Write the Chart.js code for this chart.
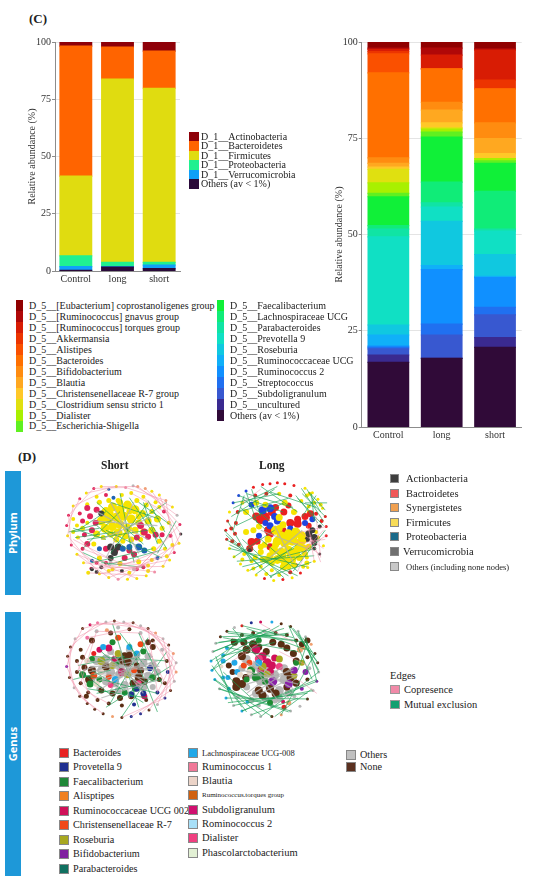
<!DOCTYPE html>
<html>
<head>
<meta charset="utf-8">
<script src="https://cdn.jsdelivr.net/npm/chart.js@4.4.1/dist/chart.umd.min.js"></script>
<style>
  body { margin: 0; background: #fff; width: 550px; height: 881px; position: relative; overflow: hidden; font-family: 'Liberation Serif', serif; color: #222; }
  canvas { position: absolute; }
  .t { position: absolute; white-space: nowrap; }
  .b { position: absolute; }
</style>
</head>
<body>
<canvas id="phylumBar" width="170" height="255" style="left:20px;top:35px;width:170px;height:255px"></canvas>
<canvas id="genusBar" width="205" height="415" style="left:325px;top:35px;width:205px;height:415px"></canvas>
<canvas id="netPS" width="140" height="125" style="left:50px;top:470px;width:140px;height:125px"></canvas>
<canvas id="netPL" width="140" height="125" style="left:200px;top:470px;width:140px;height:125px"></canvas>
<canvas id="netGS" width="140" height="125" style="left:50px;top:610px;width:140px;height:125px"></canvas>
<canvas id="netGL" width="140" height="125" style="left:200px;top:610px;width:140px;height:125px"></canvas>
<script>
// ---- panel C: relative abundance ----
const groups = ['Control', 'long', 'short'];
const tickValues = [0, 25, 50, 75, 100];

const phylumNames = ['D_1__Actinobacteria', 'D_1__Bacteroidetes', 'D_1__Firmicutes',
  'D_1__Proteobacteria', 'D_1__Verrucomicrobia', 'Others (av < 1%)'];
const phylumColors = ['#8e0008', '#ff6400', '#e0dc10', '#20f090', '#10a0f8', '#2a0a3a'];
// values per phylum: [Control, long, short]
const phylumValues = [
  [1.8, 2.2, 4.0],
  [56.8, 14.0, 16.2],
  [34.8, 80.0, 76.0],
  [4.7, 1.9, 1.2],
  [1.6, 0.2, 1.6],
  [0.3, 1.7, 1.0]
];

const genusNames = ['D_5__[Eubacterium] coprostanoligenes group', 'D_5__[Ruminococcus] gnavus group',
  'D_5__[Ruminococcus] torques group', 'D_5__Akkermansia', 'D_5__Alistipes', 'D_5__Bacteroides',
  'D_5__Bifidobacterium', 'D_5__Blautia', 'D_5__Christensenellaceae R-7 group',
  'D_5__Clostridium sensu stricto 1', 'D_5__Dialister', 'D_5__Escherichia-Shigella',
  'D_5__Faecalibacterium', 'D_5__Lachnospiraceae UCG', 'D_5__Parabacteroides', 'D_5__Prevotella 9',
  'D_5__Roseburia', 'D_5__Ruminococcaceae UCG', 'D_5__Ruminococcus 2', 'D_5__Streptococcus',
  'D_5__Subdoligranulum', 'D_5__uncultured', 'Others (av < 1%)'];
const genusColors = ['#900000', '#b00808', '#d81c04', '#ec3400', '#fa5000', '#ff7000', '#ff8c10',
  '#ffa820', '#ffc828', '#e0e010', '#a8f000', '#60f020', '#10f038', '#10ec78', '#10e4a4',
  '#10e0c4', '#10c8e0', '#10b0f8', '#1090ff', '#2070f0', '#3858d0', '#3a2a90', '#300a38'];
const genusValues = [
  [1.6, 1.6, 1.8], [0.3, 1.8, 0.3], [0.6, 3.6, 7.8], [0.6, 0, 2.3], [4.9, 0, 0],
  [22.1, 8.7, 8.8], [1.4, 2.0, 4.1], [1.0, 3.3, 3.9], [0.6, 1.3, 1.3], [3.5, 0.3, 0],
  [2.7, 0.8, 0.6], [0.9, 1.3, 0.6], [7.5, 11.7, 7.3], [0.9, 5.4, 9.8], [2.0, 1.1, 0.5],
  [22.9, 3.7, 6.1], [2.6, 11.5, 5.7], [2.9, 1.0, 0.3], [0.3, 14.2, 7.7], [0.4, 2.8, 2.0],
  [1.6, 6.1, 5.9], [1.9, 0, 2.5], [16.8, 17.8, 20.7]
];

// ---- panel D: co-occurrence networks (node: x, y, degree, group) ----
const phylumShortNodes = [
  [42,15,1.5,'R'],[50,13,1.5,'Y'],[58,16,1.5,'B'],[66,13,1.5,'Y'],[76,14,1.5,'P'],[84,12,1.5,'G'],[89,13,1.5,'O'],[97,15,1.5,'O'],
  [104,18,1.5,'Y'],[112,22,1.5,'Y'],[119,28,1.5,'O'],[126,35,1.5,'Y'],[131,44,1.5,'G'],[134,54,1.5,'R'],[135,64,1.5,'K'],[133,74,1.5,'Y'],
  [128,84,1.5,'R'],[123,92,1.5,'Y'],[116,99,1.5,'Y'],[107,105,1.5,'P'],[98,109,1.5,'Y'],[88,112,1.5,'Y'],[78,113,1.5,'Y'],[68,113,1.5,'P'],
  [58,111,1.5,'Y'],[48,107,1.5,'Y'],[39,101,1.5,'R'],[31,95,1.5,'Y'],[24,86,1.5,'Y'],[18,76,1.5,'R'],[14,66,1.5,'Y'],[13,55,1.5,'R'],
  [15,44,1.5,'R'],[20,34,1.5,'Y'],[27,26,1.5,'R'],[34,20,1.5,'Y'],
  [45,24,2,'Y'],[55,22,2,'R'],[63,25,2,'B'],[72,22,2,'Y'],[82,20,2,'Y'],[95,24,2,'Y'],[108,30,2,'Y'],[117,40,2,'R'],
  [122,52,2,'Y'],[124,66,2,'R'],[118,80,2,'Y'],[110,90,2,'B'],[100,98,2,'Y'],[88,102,2,'R'],[72,104,2,'K'],[62,102,2,'Y'],
  [50,100,2,'K'],[40,93,2,'B'],[30,80,2,'R'],[25,68,2,'Y'],[24,55,2,'Y'],[27,42,2,'R'],[35,32,2,'Y'],
  [48,30,2.5,'Y'],[58,28,2.5,'Y'],[68,28,2.5,'Y'],[88,28,2.5,'Y'],[98,33,2.5,'Y'],[104,40,2.5,'Y'],[115,58,2.5,'Y'],[112,72,2.5,'Y'],
  [106,80,2.5,'Y'],[52,68,2.5,'Y'],[66,70,3,'Y'],[82,70,3,'Y'],[92,70,2.5,'Y'],[73,72,2.5,'Y'],[42,75,2.5,'Y'],[48,90,2.5,'Y'],
  [70,96,2.5,'Y'],[90,94,2.5,'Y'],[104,92,2,'Y'],[30,58,2.5,'Y'],[35,52,2,'Y'],[112,35,2,'Y'],[30,50,2.5,'R'],[32,65,2.5,'R'],
  [115,65,2.5,'R'],[95,100,2,'R'],[45,95,2,'R'],[55,95,2,'R'],[60,95,2,'G'],[85,102,2,'G'],[20,48,2,'Y'],[20,62,2,'Y'],
  [120,88,2,'Y'],[126,76,2,'Y'],[36,106,2,'Y'],[58,104,2,'Y'],[80,106,2,'Y'],[100,104,2,'Y'],
  [55,40,4.5,'Y'],[62,35,4.5,'Y'],[70,38,4.5,'Y'],[78,33,4.5,'Y'],[86,38,4.5,'Y'],[94,42,3.5,'Y'],[100,50,3.5,'Y'],[50,50,4.5,'Y'],
  [58,48,4.5,'Y'],[66,46,4.5,'Y'],[74,45,4.5,'Y'],[82,48,4.5,'Y'],[90,52,3.5,'Y'],[54,58,4.5,'Y'],[62,56,4.5,'Y'],[70,54,4.5,'Y'],
  [78,58,4.5,'Y'],[86,60,3.5,'Y'],[60,64,3.5,'Y'],[68,63,4.5,'Y'],[76,66,3.5,'Y'],[45,64,3.5,'Y'],[95,62,3.5,'Y'],[104,60,3.5,'Y'],[110,48,3.5,'Y'],
  [70,30,3,'Y'],[80,40,3,'Y'],[90,45,3,'Y'],[60,42,3,'Y'],[52,45,3,'Y'],
  [38,45,3,'R'],[44,52,3,'R'],[40,60,3,'R'],[35,36,3,'R'],[45,38,3,'R'],[92,55,3.5,'R'],[96,62,3.5,'R'],[100,67,3,'R'],
  [108,65,3,'R'],[88,68,3,'R'],[35,75,3,'R'],[55,80,3,'R'],[65,82,3,'R'],[80,82,3,'R'],[85,86,3,'R'],[75,90,3,'R'],
  [50,42,3,'K'],[60,78,3.5,'K'],[68,78,3.5,'K'],[64,84,3.5,'K'],[60,90,3,'K'],[45,105,2,'K'],[40,102,2,'K'],
  [80,78,3,'B'],[90,78,3.5,'B'],[96,82,3,'B'],[73,80,3,'B'],[48,80,2.5,'B']
];
const phylumShortPink = [[14,66,48,107],[18,76,68,113],[24,86,88,112],[31,95,107,105],[39,101,116,99],[48,107,123,92],
  [58,111,128,84],[68,113,133,74],[78,113,134,54],[25,68,62,102],[30,80,88,102],[40,93,100,98],[62,102,118,80],[88,102,124,66],
  [20,70,58,90],[50,100,110,90],[76,14,119,28],[84,12,126,35],[89,13,131,44],[97,15,134,54],[104,18,135,64],[112,22,133,74],
  [119,28,128,84],[95,24,122,52],[82,20,117,40],[13,55,27,26],[15,44,42,15],[20,34,58,16],[14,66,20,34],[18,76,15,44],
  [42,15,76,14],[50,13,89,13],[34,20,66,13],[36,106,98,109],[24,86,58,111],[116,99,135,64],[100,104,126,76]];
const phylumShortGreen = [[15,62,60,50],[20,58,55,70],[30,80,70,40],[45,30,95,75],[60,30,112,48],[80,25,110,70],[90,30,125,55],
  [95,40,120,80],[40,95,105,80],[55,60,115,90],[70,20,85,95],[100,30,60,85],[35,70,100,60],[25,60,55,40],[110,85,130,50],
  [75,60,120,30],[50,95,95,100],[45,55,90,90],[18,62,48,58],[22,68,65,62],[95,30,110,75],[100,28,118,62],[30,84,60,98],[62,96,112,82]];
const phylumShortGray = [[45,40,100,70],[50,70,105,45],[60,30,90,85],[40,50,110,55],[55,90,85,30]];

const phylumLongNodes = [
  [62,10,1.5,'r'],[70,9,1.5,'r'],[78,8,1.5,'r'],[86,9,1.5,'r'],[96,11,1.5,'r'],[52,13,1.5,'r'],[44,17,1.5,'b'],[36,22,1.5,'b'],
  [30,30,1.5,'b'],[26,40,1.5,'Y'],[24,50,1.5,'r'],[22,60,1.5,'r'],[23,70,1.5,'r'],[26,80,1.5,'Y'],[31,89,1.5,'Y'],[38,97,1.5,'Y'],
  [46,104,1.5,'Y'],[55,109,1.5,'Y'],[64,113,1.5,'r'],[74,115,1.5,'Y'],[84,114,1.5,'r'],[94,112,1.5,'Y'],[103,107,1.5,'r'],[111,101,1.5,'Y'],
  [118,94,1.5,'Y'],[124,86,1.5,'K'],[128,77,1.5,'Y'],[131,66,1.5,'r'],[131,56,1.5,'r'],[130,45,1.5,'r'],[127,36,1.5,'Y'],[122,26,1.5,'Y'],
  [116,19,1.5,'Y'],[108,14,1.5,'Y'],
  [40,30,2,'Y'],[35,40,2,'r'],[33,52,2,'r'],[32,64,2,'r'],[36,76,2,'r'],[42,86,2,'Y'],[50,94,2,'Y'],[60,100,2,'Y'],
  [72,104,2,'Y'],[86,102,2,'Y'],[98,98,2,'r'],[110,90,2,'Y'],[118,80,2,'K'],[122,68,2,'Y'],[124,56,2,'K'],[120,42,2,'r'],
  [112,34,2,'Y'],[104,28,2,'Y'],[92,22,2,'r'],[80,20,2,'Y'],[66,20,2,'r'],[54,22,2,'r'],[110,22,2,'Y'],[118,30,2,'Y'],
  [113,20,2,'Y'],[125,32,2,'Y'],[112,40,2,'Y'],[28,58,2,'r'],[29,72,2,'r'],[40,92,2,'Y'],[52,102,2,'Y'],[66,108,2,'Y'],
  [80,109,2,'Y'],[92,106,2,'r'],[106,100,2,'Y'],[126,50,2,'r'],[120,62,2,'Y'],
  [60,48,5,'r'],[64,46,5.5,'r'],[55,45,4,'r'],[72,40,4,'r'],[76,35,3.5,'r'],[85,40,3.5,'r'],[90,33,3,'r'],[68,60,4,'r'],
  [70,64,4,'r'],[50,73,4,'r'],[48,80,3.5,'r'],[56,72,3.5,'r'],[70,78,3.5,'r'],[100,48,3.5,'r'],[108,45,3.5,'r'],[114,42,3.5,'r'],
  [92,52,4,'r'],[100,53,4,'r'],[84,60,3.5,'r'],[112,55,3,'r'],
  [62,38,4,'b'],[70,36,4,'b'],[75,45,3.5,'b'],[78,50,3.5,'b'],[70,55,3.5,'b'],[65,52,3,'b'],[58,66,3,'b'],[50,32,3,'b'],
  [108,52,3,'b'],[116,48,3,'b'],[92,58,3,'b'],
  [112,64,3.5,'K'],[116,60,3,'K'],[118,68,3.5,'K'],[110,70,3,'K'],[118,74,3,'K'],[48,82,2,'K'],
  [65,32,3,'Y'],[80,46,3.5,'Y'],[84,54,3.5,'Y'],[76,60,4.5,'Y'],[82,66,4.5,'Y'],[90,64,4.5,'Y'],[98,62,4.5,'Y'],[104,66,4.5,'Y'],
  [78,72,4.5,'Y'],[86,74,4.5,'Y'],[94,72,4.5,'Y'],[102,74,4.5,'Y'],[74,82,4.5,'Y'],[82,84,4.5,'Y'],[90,82,4.5,'Y'],[98,84,4.5,'Y'],
  [106,80,4,'Y'],[78,92,4.5,'Y'],[86,94,4.5,'Y'],[94,92,4,'Y'],[102,90,3.5,'Y'],[70,88,3.5,'Y'],[60,84,3,'Y'],[64,76,3,'Y'],
  [58,56,3,'Y'],[52,60,3,'Y'],[44,62,3,'Y'],[86,30,3,'Y'],[96,40,3,'Y'],[55,30,3,'Y'],[44,40,3,'Y'],
  [66,92,3.5,'Y'],[72,96,3,'Y'],[84,100,3,'Y'],[96,98,3,'Y'],[108,86,3,'Y'],[112,78,3,'Y'],[100,80,3.5,'Y'],[92,88,3.5,'Y'],
  [84,88,3.5,'Y'],[76,76,3.5,'Y'],[68,70,3.5,'Y'],[60,78,3,'Y'],[62,92,3,'Y'],[54,90,2.5,'Y'],[110,96,2.5,'Y'],[80,58,3.5,'Y'],
  [88,70,3.5,'Y'],[96,68,3.5,'Y'],[106,72,3,'Y'],[90,100,3,'Y']
];
const phylumLongPink = [[100,60,128,80],[110,55,125,95],[95,75,130,70],[105,85,128,60],[60,15,40,30],[115,70,100,105],[120,45,125,90],
  [104,62,131,56],[108,80,131,66],[98,70,124,86],[112,58,118,94]];
const phylumLongGreen = [[30,30,80,20],[35,40,90,25],[40,25,70,50],[45,20,95,35],[28,45,75,15],[50,15,60,45],[60,12,100,40],
  [33,55,85,30],[38,35,66,60],[105,20,130,45],[110,15,125,40],[108,30,132,30],[100,25,128,55],[115,20,118,50],[120,22,105,45],
  [20,60,60,100],[22,70,90,110],[26,80,110,100],[30,90,75,60],[40,100,120,80],[55,108,100,75],[70,112,125,70],[85,112,40,70],
  [24,50,50,95],[100,105,60,70],[115,95,70,110],[130,60,95,105],[42,22,30,60],[70,18,120,35],[36,22,84,40],[30,36,78,12],
  [44,18,56,52],[104,14,128,50],[112,18,130,38],[98,22,122,52],[22,65,72,112],[26,76,100,110],[34,94,118,88],[48,104,96,80]];
const phylumLongGray = [[60,60,110,80],[70,90,105,60],[75,55,95,95]];

const genusShortNodes = [
  [30,15,1.5,'N'],[38,11,1.5,'M'],[46,9,1.5,'P2'],[55,8,1.5,'G'],[64,7,1.5,'N'],[74,8,1.5,'G'],[84,9,1.5,'N'],[92,12,1.5,'G'],
  [100,15,1.5,'N'],[108,20,1.5,'O'],[116,26,1.5,'G'],[122,33,1.5,'N'],[127,42,1.5,'O'],[130,52,1.5,'G'],[130,62,1.5,'O'],[128,72,1.5,'G'],
  [124,82,1.5,'N'],[118,90,1.5,'DB'],[110,97,1.5,'G'],[101,103,1.5,'N'],[92,107,1.5,'DB'],[82,110,1.5,'DB'],[72,111,1.5,'N'],[62,110,1.5,'O'],
  [52,107,1.5,'N'],[43,102,1.5,'N'],[35,96,1.5,'N'],[27,88,1.5,'N'],[21,79,1.5,'G'],[16,68,1.5,'N'],[13,56,1.5,'V'],[14,45,1.5,'N'],
  [17,35,1.5,'N'],[22,26,1.5,'G'],
  [35,25,2,'P2'],[45,18,2,'G'],[56,17,2,'O'],[68,14,2,'G'],[80,16,2,'N'],[92,20,2,'G'],[105,28,2,'N'],[115,38,2,'G'],
  [120,50,2,'N'],[121,62,2,'DB'],[118,74,2,'N'],[110,84,2,'DB'],[98,92,2,'N'],[85,97,2,'DB'],[72,98,2,'N'],[58,96,2,'N'],
  [46,92,2,'N'],[36,84,2,'N'],[28,74,2,'N'],[24,62,2,'N'],[24,50,2,'N'],[28,38,2,'N'],
  [45,50,4,'G'],[55,48,4.5,'G'],[65,50,4.5,'G'],[75,48,4.5,'G'],[85,50,4.5,'G'],[95,52,4,'G'],[105,55,4,'G'],[50,60,4,'G'],
  [60,62,4.5,'G'],[70,64,4.5,'G'],[80,62,4.5,'G'],[90,64,4.5,'G'],[100,66,4,'G'],[110,62,3.5,'G'],[55,72,4,'G'],[65,74,4,'G'],
  [75,76,4,'G'],[85,74,4,'G'],[95,78,4,'G'],[60,40,3.5,'G'],[80,38,3.5,'G'],[40,70,3.5,'G'],[70,56,4,'G'],[88,44,3.5,'G'],
  [100,45,3.5,'G'],[48,80,3,'G'],[68,82,3.5,'G'],[105,78,3,'G'],
  [40,60,4,'N'],[37,70,4,'N'],[32,57,3,'N'],[55,56,4,'N'],[72,50,4,'N'],[78,52,4.5,'N'],[75,45,4,'N'],[80,44,3.5,'N'],
  [92,60,3.5,'N'],[88,55,3,'N'],[84,74,3.5,'N'],[90,68,4,'N'],[96,72,3.5,'N'],[70,90,3,'N'],[40,28,3,'N'],[100,30,3,'N'],
  [105,35,3,'N'],[62,85,3,'N'],[50,82,3,'N'],[82,88,3,'N'],[30,46,2.5,'N'],[34,88,2.5,'N'],[112,70,2.5,'N'],[60,20,2.5,'N'],
  [30,65,3.5,'F'],[38,75,3.5,'F'],[48,70,3,'F'],[62,30,3,'F'],[66,52,3.5,'F'],[95,40,3,'F'],[105,68,3.5,'F'],[75,84,3,'F'],
  [40,48,3,'F'],[86,80,3,'F'],
  [58,36,3.5,'M'],[72,62,4,'M'],[48,38,3,'M'],[96,88,3,'M'],[64,48,3,'M'],
  [42,66,3.5,'C'],[58,67,3,'C'],[85,60,3,'C'],[92,32,3,'C'],[68,25,3,'C'],
  [50,50,4,'Ro'],[62,55,3.5,'Ro'],[68,42,3.5,'Ro'],[78,65,3.5,'Ro'],
  [52,35,3,'L'],[65,70,3.5,'L'],[80,35,3,'L'],[88,42,3,'L'],
  [88,80,3,'DB'],[82,86,3,'DB'],[102,58,3,'DB'],[95,85,3,'DB'],
  [35,50,3,'Pa'],[50,62,3,'Pa'],[45,75,3,'Pa'],[42,42,2.5,'Ba'],[60,76,3,'Di'],[90,74,3,'Di']
];
const genusShortPink = [[30,15,64,7],[38,11,84,9],[46,9,100,15],[22,26,55,8],[17,35,46,9],[14,45,30,15],[13,56,22,26],
  [16,68,17,35],[21,79,14,45],[27,88,13,56],[35,96,16,68],[43,102,21,79],[52,107,27,88],[64,7,108,20],[74,8,116,26],
  [84,9,122,33],[92,12,127,42],[100,15,130,52],[108,20,130,62],[116,26,128,72],[122,33,124,82],[127,42,118,90],[130,52,110,97],
  [130,62,101,103],[128,72,92,107],[124,82,82,110],[118,90,72,111],[24,62,40,28],[28,74,45,18],[36,84,24,50],[115,38,121,62],
  [105,28,120,50],[110,84,121,62],[46,92,28,74],[58,96,36,84],[35,25,80,16],[45,18,92,20],[92,20,118,74],[100,15,110,84]];
const genusShortGreen = [[40,45,120,50],[30,65,110,85],[45,85,115,70],[55,100,125,55],[62,10,90,100],[72,110,120,40],
  [40,60,95,95],[80,30,110,105],[100,25,60,95],[35,80,100,90],[50,40,90,75],[25,55,75,45],[20,70,60,60],[90,20,115,75],
  [26,60,62,88],[70,20,100,60]];
const genusShortGray = [[35,50,110,60],[40,70,110,50],[45,45,100,80],[50,80,105,45],[60,40,95,85],[70,35,80,90],[40,60,105,70],
  [55,55,100,60],[30,60,90,45],[50,90,110,70],[38,56,112,56],[42,64,108,64],[46,72,104,52],[52,44,98,74],[36,62,96,48],[58,84,92,40]];

const genusLongNodes = [
  [40,12,1.5,'Ba'],[50,9,1.5,'DB'],[60,8,1.5,'M'],[72,8,1.5,'L'],[82,10,1.5,'N'],[92,13,1.5,'N'],[100,18,1.5,'G'],[108,24,1.5,'G'],
  [114,32,1.5,'O'],[118,42,1.5,'N'],[121,52,1.5,'N'],[122,62,1.5,'G'],[120,72,1.5,'V'],[116,82,1.5,'G'],[110,91,1.5,'N'],[102,99,1.5,'G'],
  [92,104,1.5,'G'],[82,108,1.5,'O'],[72,110,1.5,'N'],[60,110,1.5,'G'],[50,108,1.5,'G'],[40,104,1.5,'L'],[31,98,1.5,'G'],[23,90,1.5,'L'],
  [16,80,1.5,'G'],[11,70,1.5,'L'],[8,60,1.5,'L'],[7,50,1.5,'L'],[9,40,1.5,'G'],[12,31,1.5,'G'],[17,24,1.5,'N'],[24,18,1.5,'N'],[32,14,1.5,'G'],
  [30,28,2,'N'],[40,22,2,'N'],[52,20,2,'N'],[64,18,2,'G'],[76,20,2,'N'],[88,22,2,'N'],[98,28,2,'N'],[106,36,2,'O'],
  [110,46,2,'N'],[112,58,2,'G'],[110,70,2,'N'],[104,80,2,'V'],[96,88,2,'G'],[84,94,2,'M'],[72,98,2,'G'],[58,98,2,'G'],
  [46,94,2,'L'],[36,88,2,'G'],[26,80,2,'L'],[20,68,2,'L'],[18,56,2,'Pa'],[20,44,2,'L'],[24,36,2,'L'],
  [45,48,4,'G'],[55,55,4,'G'],[65,60,4.5,'G'],[75,65,4.5,'G'],[85,70,4.5,'G'],[95,72,4,'G'],[50,65,4,'G'],[60,72,4.5,'G'],
  [70,78,4.5,'G'],[80,82,4.5,'G'],[90,84,4,'G'],[55,85,4,'G'],[65,90,4,'G'],[75,92,3.5,'G'],[45,78,3.5,'G'],[85,58,4,'G'],
  [95,60,3.5,'G'],[40,58,3.5,'G'],[80,90,3.5,'G'],[50,92,3,'G'],
  [32,30,3.5,'N'],[42,30,3.5,'N'],[45,38,4,'N'],[40,45,4,'N'],[52,32,4,'N'],[58,35,3.5,'N'],[66,40,3.5,'N'],[73,30,3.5,'N'],
  [82,32,3.5,'N'],[88,36,3.5,'N'],[95,42,3.5,'N'],[98,50,3.5,'N'],[34,72,4,'N'],[40,75,4,'N'],[34,78,4,'N'],[44,68,3.5,'N'],
  [58,82,4,'N'],[62,87,4,'N'],[70,80,4,'N'],[76,85,4,'N'],[88,62,4,'N'],[92,68,4,'N'],[98,74,3.5,'N'],[88,78,3.5,'N'],
  [26,55,3,'N'],[30,62,3,'N'],[110,28,3,'N'],[104,32,3,'N'],
  [55,38,4.5,'M'],[62,45,4,'M'],[67,52,4.5,'M'],[72,55,4,'M'],[70,62,4,'M'],[60,60,3.5,'M'],[75,47,3.5,'M'],
  [58,48,4,'Di'],[80,56,3.5,'Di'],
  [50,60,4,'F'],[55,68,4,'F'],[60,66,4,'F'],[65,72,3.5,'F'],[45,70,3,'F'],[58,28,3,'F'],[98,52,3,'F'],[70,95,3,'F'],
  [62,56,4,'Ro'],[67,64,3.5,'Ro'],[80,48,3.5,'Ro'],[96,66,3,'Ro'],[104,52,3,'Ro'],
  [73,72,4.5,'V'],[90,75,4,'V'],[96,60,3.5,'V'],[108,62,3,'V'],
  [58,52,3.5,'L'],[35,62,3,'L'],[20,50,2.5,'L'],[25,68,2.5,'L'],[32,52,3,'L'],
  [42,55,3,'C'],[102,38,3,'O'],[48,52,3,'C'],[90,95,2.5,'O'],[48,62,3,'Pa'],[38,65,3,'Pa'],[85,100,2.5,'Ba']
];
const genusLongPink = [[100,70,120,85],[80,40,110,55],[30,50,60,30],[60,10,95,30]];
const genusLongGreen = [[10,40,70,15],[12,50,80,12],[8,60,60,25],[15,30,90,20],[20,25,100,40],[25,20,110,30],[30,15,60,50],
  [40,12,95,25],[18,45,75,30],[35,30,85,15],[95,15,120,50],[100,20,122,60],[105,25,118,45],[90,12,115,70],[110,30,100,60],
  [8,55,40,100],[10,70,60,108],[15,80,90,105],[25,95,110,85],[40,104,120,70],[20,62,50,90],
  [50,108,100,90],[12,45,30,95],[75,110,115,80],[22,35,70,45],[45,15,115,40],[16,65,45,105],[9,40,64,18],[12,31,76,20],
  [17,24,88,22],[24,18,98,28],[7,50,52,20],[8,60,40,22],[92,13,121,52],[100,18,122,62],[108,24,120,72],[11,70,72,110],
  [16,80,92,104],[23,90,110,91],[31,98,116,82],[40,104,120,72],[60,110,122,62],[82,108,118,42]];
const genusLongGray = [[40,60,100,75],[45,75,95,60],[50,55,90,90],[60,85,100,65],[45,85,85,55],[55,60,80,95],[40,50,95,80],
  [42,66,98,66],[48,88,96,56],[52,50,90,78]];

// legends of panel D
const phylumNetNames = ['Actionbacteria', 'Bactroidetes', 'Synergistetes', 'Firmicutes', 'Proteobacteria', 'Verrucomicrobia', 'Others (including none nodes)'];
const phylumNetColors = ['#3e3e3e', '#f05858', '#f0a050', '#f8dc58', '#1a6a8a', '#707070', '#c8c8c8'];
const edgeNames = ['Copresence', 'Mutual exclusion'];
const edgeColors = ['#f08aa8', '#12a070'];
const genusNetCol1 = ['Bacteroides', 'Provetella 9', 'Faecalibacterium', 'Alisptipes', 'Ruminococcaceae UCG 002',
  'Christensenellaceae R-7', 'Roseburia', 'Bifidobacterium', 'Parabacteroides'];
const genusNetCol1Colors = ['#e82222', '#203090', '#208838', '#f08020', '#d01058', '#f04818', '#a8a820', '#8020a0', '#107060'];
const genusNetCol2 = ['Lachnospiraceae UCG-008', 'Ruminococcus 1', 'Blautia', 'Ruminococcus.torques group', 'Subdoligranulum',
  'Rominococcus 2', 'Dialister', 'Phascolarctobacterium'];
const genusNetCol2Colors = ['#20a8e8', '#f07898', '#ecd4c8', '#d06010', '#d01070', '#a8e0f8', '#f04080', '#e2f0d4'];
const genusNetCol3 = ['Others', 'None'];
const genusNetCol3Colors = ['#c0c0c0', '#5a3020'];

const netPalette = {
  Y: '#f6e400', R: '#e0245a', r: '#ea2020', B: '#1f64b4', b: '#2044e0', K: '#3c3c3c', O: '#f0a070', G: '#b8b8b8', P: '#f090a8',
  N: '#5a2e14', M: '#d0105a', V: '#8a20a8', DB: '#203090', F: '#1e8a32', C: '#f04818', Ro: '#a8a820', L: '#20a8e8',
  Pa: '#e8d8c8', Ba: '#e82020', Di: '#f04080', P2: '#f070a0'
};

// ---------- helpers ----------
function addText(txt, x, y, css) {
  const d = document.createElement('div');
  d.className = 't';
  d.textContent = txt;
  d.style.left = x + 'px';
  d.style.top = y + 'px';
  if (css) d.style.cssText += css;
  document.body.appendChild(d);
  return d;
}
function addBox(x, y, w, h, color, css) {
  const d = document.createElement('div');
  d.className = 'b';
  d.style.cssText += `left:${x}px;top:${y}px;width:${w}px;height:${h}px;background:${color};` + (css || '');
  document.body.appendChild(d);
  return d;
}

const serif = 'Liberation Serif';

function stackedChart(id, names, colors, values, yWidth, rightPad, topPad, xHeight, titlePad) {
  // datasets are stacked from the bottom, so the last category goes first
  const datasets = names.map((n, i) => ({
    label: n,
    data: values[i],
    backgroundColor: colors[i],
    borderWidth: 0,
    inflateAmount: 0.6,
    barPercentage: 0.76,
    categoryPercentage: 1
  })).reverse();
  return new Chart(document.getElementById(id), {
    type: 'bar',
    data: { labels: groups, datasets },
    options: {
      responsive: false,
      animation: false,
      events: [],
      layout: { padding: { top: topPad, right: rightPad, left: 0, bottom: 0 } },
      plugins: { legend: { display: false }, tooltip: { enabled: false } },
      scales: {
        x: {
          stacked: true,
          grid: { display: false, drawTicks: false },
          border: { display: true, color: '#8c8c8c', width: 1 },
          ticks: { font: { family: serif, size: 10 }, color: '#333', padding: 2 },
          afterFit: s => { s.height = xHeight; }
        },
        y: {
          stacked: true, min: 0, max: 100,
          afterBuildTicks: s => { s.ticks = tickValues.map(v => ({ value: v })); },
          ticks: { font: { family: serif, size: 10 }, color: '#333', padding: 1 },
          grid: { color: '#e4e4e4', tickLength: 3, tickColor: '#8c8c8c' },
          border: { display: true, color: '#8c8c8c', width: 1 },
          title: { display: true, text: 'Relative abundance (%)', font: { family: serif, size: 10 }, color: '#333', padding: { top: titlePad, bottom: 0 } },
          afterFit: s => { s.width = yWidth; }
        }
      }
    }
  });
}

stackedChart('phylumBar', phylumNames, phylumColors, phylumValues, 35, 10, 4, 19, 6);
stackedChart('genusBar', genusNames, genusColors, genusValues, 36.7, 8.3, 2.5, 23, 8);

// legend C (phylum)
phylumNames.forEach((n, i) => {
  const y = 131.5 + i * 9.5;
  addBox(189, y, 10, 9.5, phylumColors[i]);
  addText(n, 201, y - 1, `font-size:10px;line-height:11px;font-family:${serif};`);
});
// legend C (genus), two columns
genusNames.forEach((n, i) => {
  const col = i < 12 ? 0 : 1;
  const row = col ? i - 12 : i;
  const y = 300.3 + row * 10.95;
  const bx = col ? 217 : 16;
  addBox(bx, y, 6.5, 10.95, genusColors[i]);
  addText(n, bx + 13, y - 0.3, `font-size:10px;line-height:11.5px;font-family:${serif};`);
});

addText('(C)', 29, 11, `font-size:13px;font-weight:bold;line-height:16px;font-family:${serif};`);
addText('(D)', 18, 449, `font-size:13px;font-weight:bold;line-height:16px;font-family:${serif};`);
addText('Short', 101, 458, `font-size:11.5px;font-weight:bold;line-height:14px;font-family:${serif};`);
addText('Long', 259, 458, `font-size:11.5px;font-weight:bold;line-height:14px;font-family:${serif};`);

// blue side tabs
[['Phylum', 471, 124], ['Genus', 612, 264]].forEach(([label, top, h]) => {
  addBox(5, top, 16, h, '#1e98d8');
  const t = addText(label, 13, top + h / 2, "font-family:'Open Sans',sans-serif;font-weight:bold;font-size:11px;color:#fff;line-height:12px;");
  t.style.transform = 'translate(-50%,-50%) rotate(-90deg)';
});

// legend D (phylum nodes)
phylumNetNames.forEach((n, i) => {
  const y = 479 + i * 14.6;
  addBox(390, y - 5, 9, 9, phylumNetColors[i], 'border:0.8px solid #888;box-sizing:border-box;');
  const small = i === phylumNetNames.length - 1;
  addText(n, i === 5 ? 403 : 406, small ? y - 6.5 : y - 7, `font-size:${small ? 8.5 : 10.5}px;line-height:14px;font-family:${serif};`);
});
// legend D (edges)
addText('Edges', 390, 669, `font-size:10.5px;line-height:14px;font-family:${serif};`);
edgeNames.forEach((n, i) => {
  const y = 690 + i * 14.5;
  addBox(390, y - 5, 10, 9, edgeColors[i], 'border:0.6px solid #999;box-sizing:border-box;');
  addText(n, 404, y - 7, `font-size:10.5px;line-height:14px;font-family:${serif};`);
});
// legend D (genus nodes)
function netLegend(names, colors, x, y0, step, sizes) {
  names.forEach((n, i) => {
    const y = y0 + i * step;
    addBox(x, y - 5, 10, 10, colors[i], 'border:0.6px solid #888;box-sizing:border-box;');
    addText(n, x + 14, y - 7, `font-size:${sizes ? sizes[i] : 10.2}px;line-height:14px;font-family:${serif};`);
  });
}
netLegend(genusNetCol1, genusNetCol1Colors, 59, 753, 14.45);
netLegend(genusNetCol2, genusNetCol2Colors, 188, 752.5, 14.3, [8.5, 10.5, 10.5, 7, 10.5, 10.5, 10.5, 10.5]);
netLegend(genusNetCol3, genusNetCol3Colors, 346, 755, 11.5);

// ---------- networks ----------
function edgeData(list) {
  const d = [];
  list.forEach(e => { d.push({ x: e[0], y: e[1] }, { x: e[2], y: e[3] }, { x: null, y: null }); });
  return d;
}
function drawNet(id, nodes, pink, green, gray) {
  const edge = (list, color, w) => ({
    type: 'line', data: edgeData(list), borderColor: color, borderWidth: w,
    pointRadius: 0, spanGaps: false, clip: false, tension: 0
  });
  new Chart(document.getElementById(id), {
    type: 'scatter',
    data: {
      datasets: [
        edge(gray, 'rgba(175,175,175,0.75)', 1.2),
        edge(pink, 'rgba(240,140,165,0.55)', 0.9),
        edge(green, 'rgba(25,160,85,0.65)', 1),
        {
          data: nodes.map(n => ({ x: n[0], y: n[1] })),
          pointRadius: nodes.map(n => n[2]),
          pointBackgroundColor: nodes.map(n => netPalette[n[3]]),
          pointBorderWidth: 0,
          clip: false
        }
      ]
    },
    options: {
      responsive: false,
      animation: false,
      events: [],
      layout: { padding: 0 },
      plugins: { legend: { display: false }, tooltip: { enabled: false } },
      scales: {
        x: { type: 'linear', min: 0, max: 140, display: false },
        y: { type: 'linear', min: 0, max: 125, reverse: true, display: false }
      }
    }
  });
}
drawNet('netPS', phylumShortNodes, phylumShortPink, phylumShortGreen, phylumShortGray);
drawNet('netPL', phylumLongNodes, phylumLongPink, phylumLongGreen, phylumLongGray);
drawNet('netGS', genusShortNodes, genusShortPink, genusShortGreen, genusShortGray);
drawNet('netGL', genusLongNodes, genusLongPink, genusLongGreen, genusLongGray);
</script>
</body>
</html>
